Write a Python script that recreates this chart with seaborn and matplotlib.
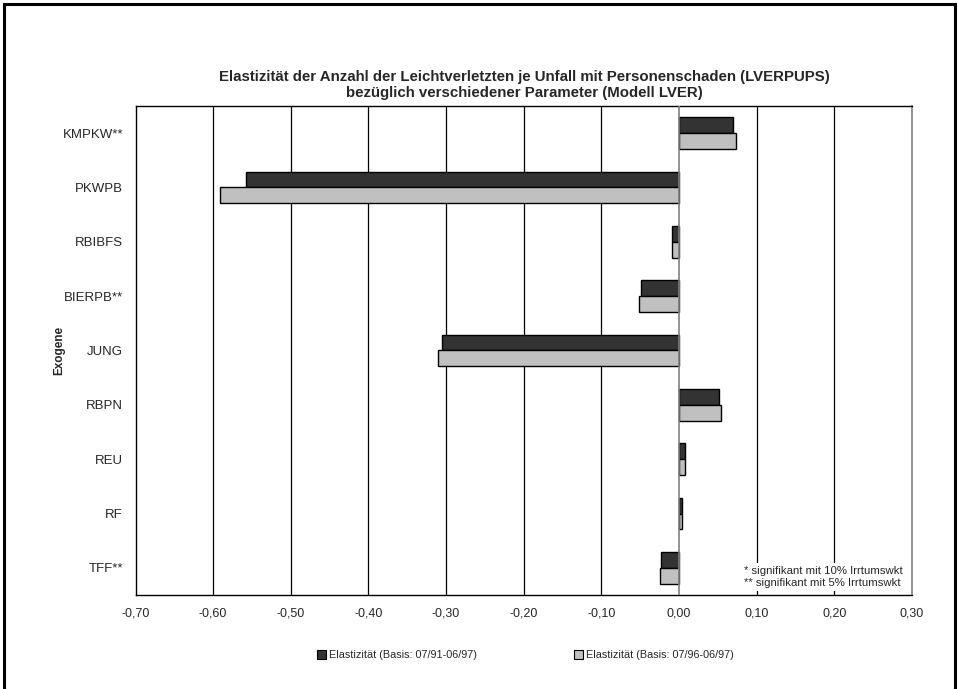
import matplotlib
matplotlib.use("Agg")
import matplotlib.pyplot as plt
import seaborn as sns
import pandas as pd
from matplotlib.patches import Rectangle, Patch

categories = ["KMPKW**", "PKWPB", "RBIBFS", "BIERPB**", "JUNG", "RBPN", "REU", "RF", "TFF**"]
series_names = ["Elastizität (Basis: 07/91-06/97)", "Elastizität (Basis: 07/96-06/97)"]
values_9197 = [0.070, -0.558, -0.009, -0.049, -0.305, 0.051, 0.008, 0.004, -0.023]
values_9697 = [0.073, -0.591, -0.009, -0.051, -0.310, 0.054, 0.008, 0.004, -0.024]
xticks = [-0.7, -0.6, -0.5, -0.4, -0.3, -0.2, -0.1, 0.0, 0.1, 0.2, 0.3]
xtick_labels = ["-0,70", "-0,60", "-0,50", "-0,40", "-0,30", "-0,20", "-0,10", "0,00", "0,10", "0,20", "0,30"]

df = pd.DataFrame({
    "Exogene": categories * 2,
    "Wert": values_9197 + values_9697,
    "Serie": [series_names[0]] * len(categories) + [series_names[1]] * len(categories),
})

sns.set_theme(style="white")
plt.rcParams["font.family"] = ["Liberation Sans", "DejaVu Sans"]

colors = ["#333333", "#c0c0c0"]
fig = plt.figure(figsize=(9.59, 6.89), dpi=100)
ax = fig.add_axes([0.1413, 0.1364, 0.9510 - 0.1413, 0.8462 - 0.1364])

for x in xticks[1:-1]:
    if x != 0.0:
        ax.axvline(x, color="black", lw=0.9, zorder=0)

sns.barplot(data=df, y="Exogene", x="Wert", hue="Serie", order=categories,
            hue_order=series_names, palette=colors, orient="h", width=0.58,
            edgecolor="black", linewidth=1.0, saturation=1, ax=ax, legend=False, zorder=2)

ax.axvline(0.0, color="#808080", lw=1.2, zorder=3)
ax.set_xlim(-0.7, 0.3)
ax.set_ylim(len(categories) - 0.5, -0.5)
ax.set_xticks(xticks)
ax.set_xticklabels(xtick_labels, fontsize=9)
ax.tick_params(axis="y", labelsize=9.5, length=0, pad=9)
ax.tick_params(axis="x", length=0, pad=9)
ax.set_xlabel("")
ax.set_ylabel("Exogene", fontsize=8.5, fontweight="bold")
ax.yaxis.set_label_coords(-0.090, 0.5)

for side in ["left", "bottom", "top"]:
    ax.spines[side].set_color("black")
    ax.spines[side].set_linewidth(1.0)
ax.spines["right"].set_color("#808080")
ax.spines["right"].set_linewidth(1.2)

fig.text(0.5465, 0.877, "Elastizität der Anzahl der Leichtverletzten je Unfall mit Personenschaden (LVERPUPS)\nbezüglich verschiedener Parameter (Modell LVER)",
         ha="center", va="center", fontsize=10.8, fontweight="bold", linespacing=1.2)

ax.text(0.784, 0.014, "* signifikant mit 10% Irrtumswkt\n** signifikant mit 5% Irrtumswkt",
        transform=ax.transAxes, ha="left", va="bottom", fontsize=8.2, linespacing=1.25,
        zorder=4, bbox=dict(facecolor="white", edgecolor="none", pad=2))

handles = [Patch(facecolor=c, edgecolor="black", linewidth=0.8) for c in colors]
fig.legend(handles, series_names, loc="center", bbox_to_anchor=(0.548, 0.049), ncol=2,
           frameon=False, fontsize=7.8, handlelength=0.8, handleheight=0.8, handletextpad=0.3,
           columnspacing=9.0)

fig.patches.append(Rectangle((0.004, -0.01), 0.992, 1.004, transform=fig.transFigure,
                             fill=False, edgecolor="black", linewidth=2.2))

fig.savefig("out.png", dpi=100)
